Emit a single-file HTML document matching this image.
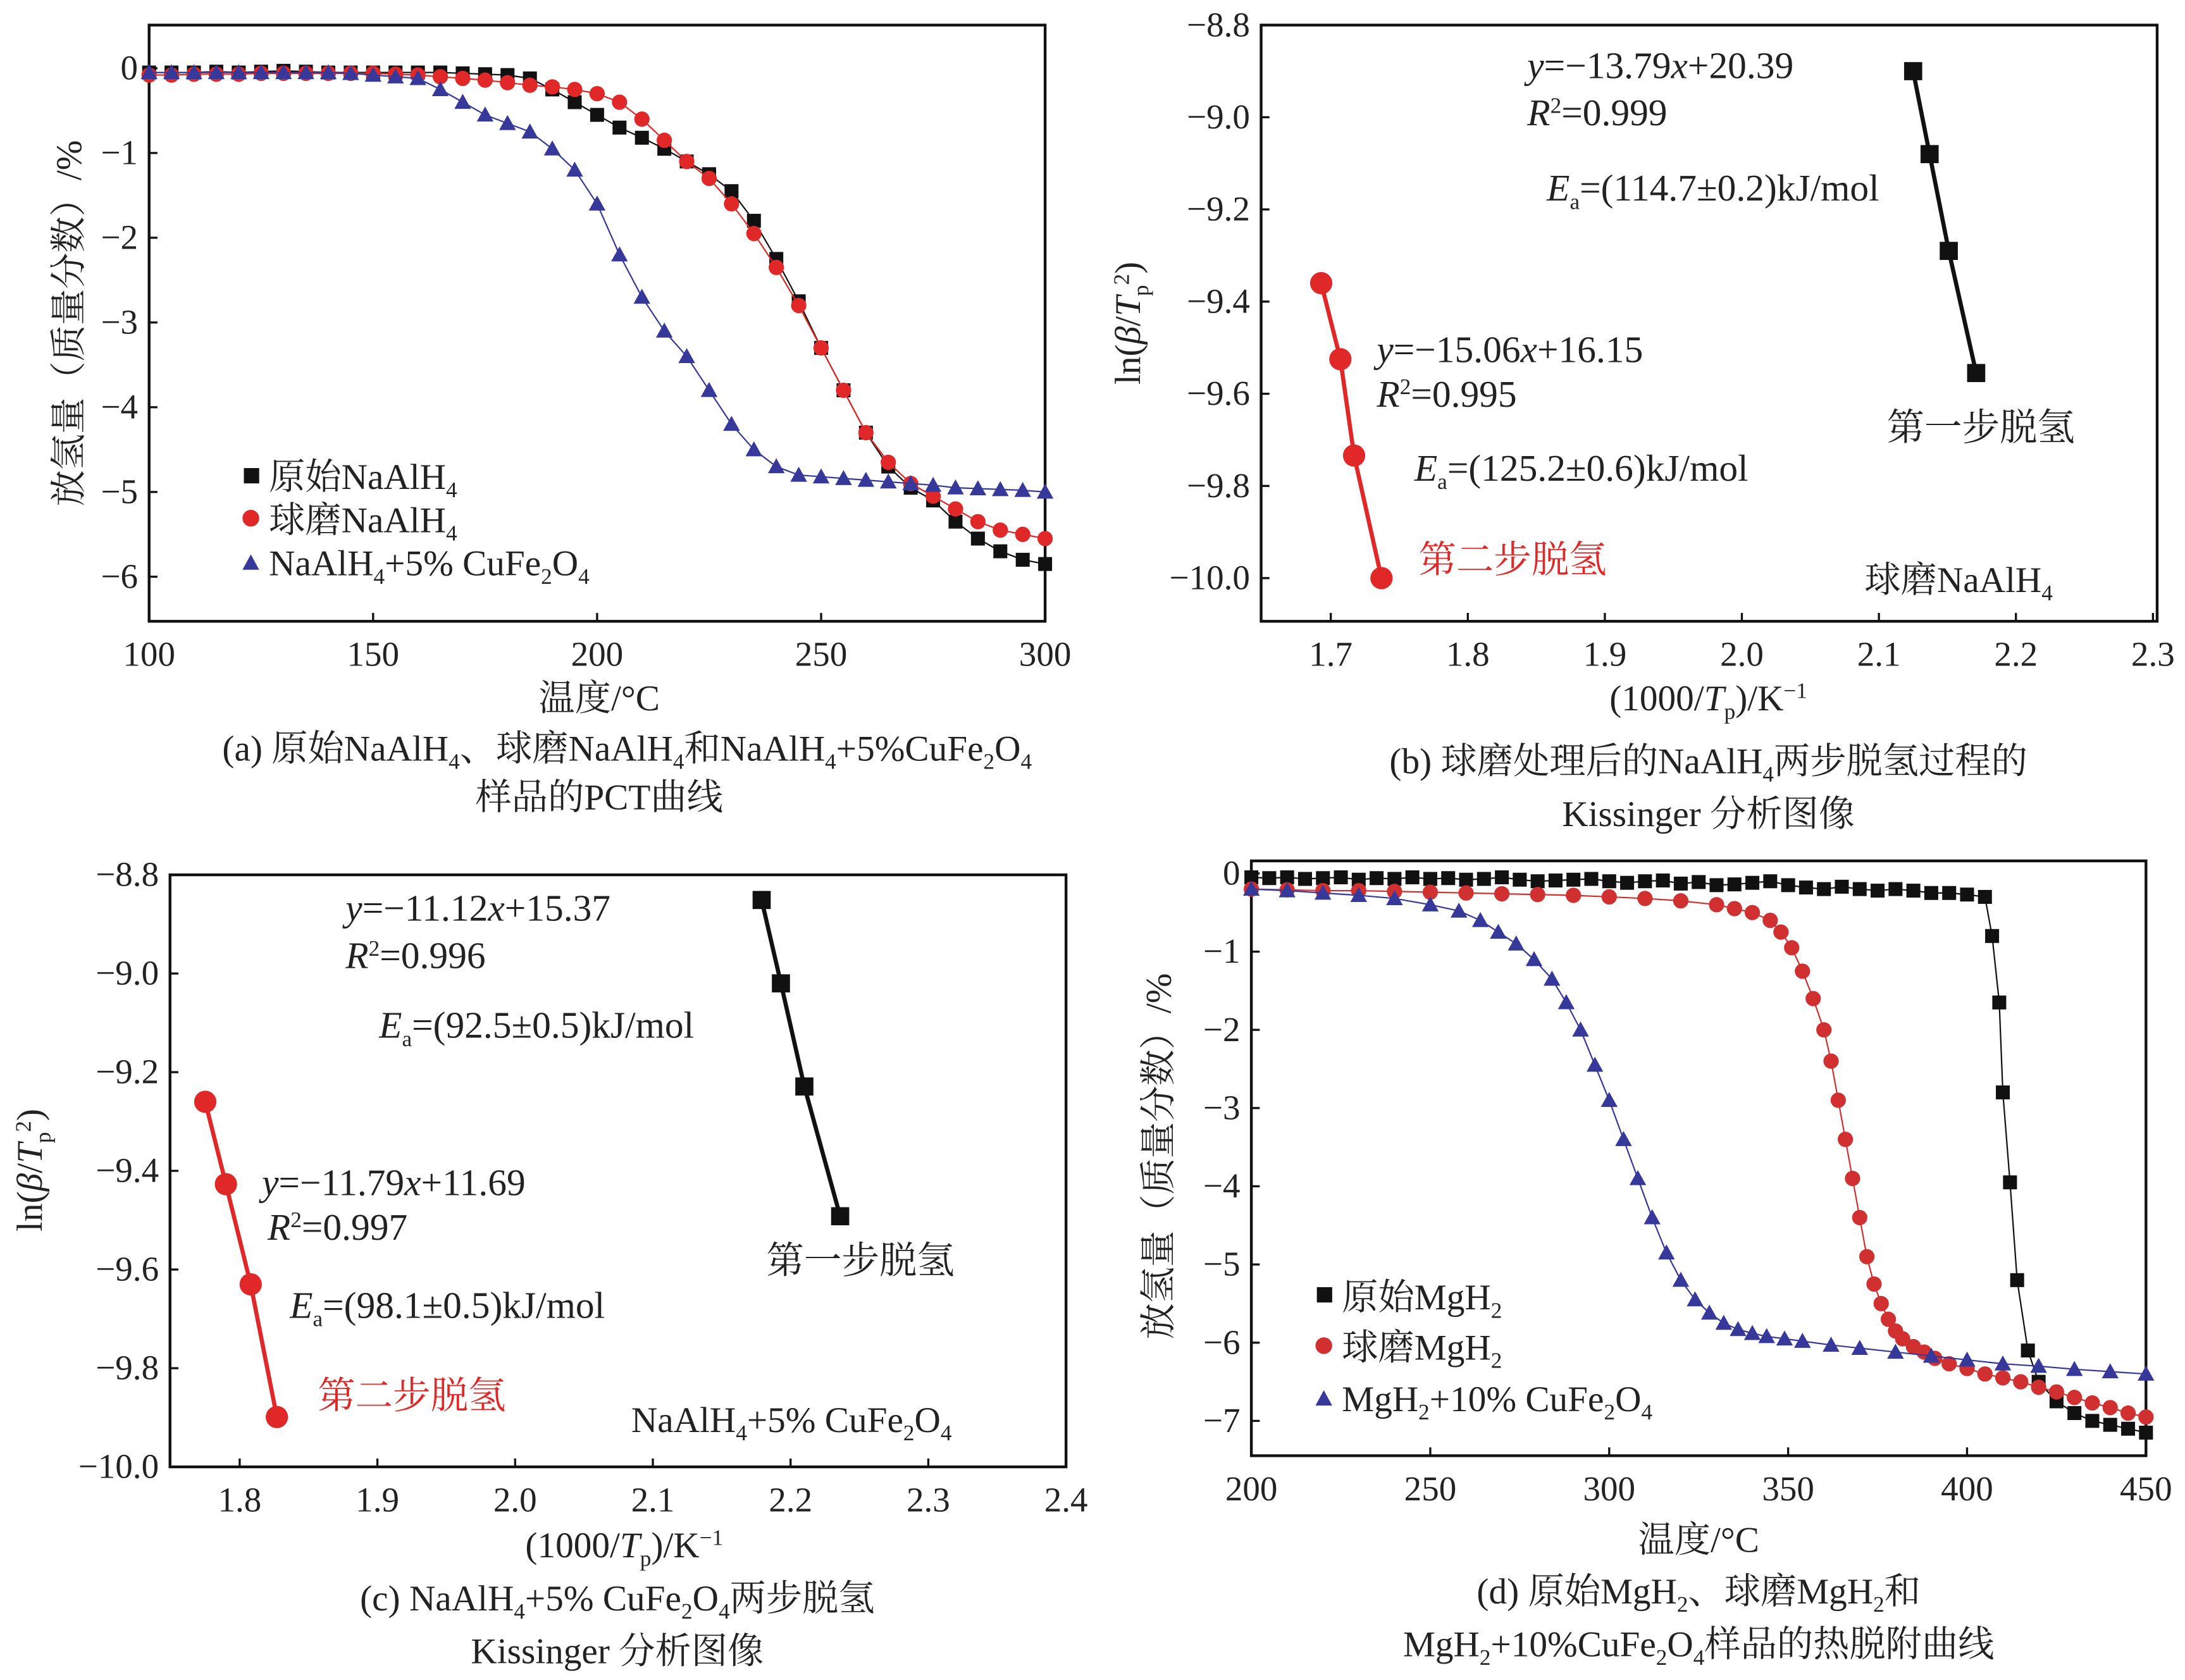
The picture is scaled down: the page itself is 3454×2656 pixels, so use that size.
<!DOCTYPE html>
<html><head><meta charset="utf-8"><style>
html,body{margin:0;padding:0;background:#fff}
svg{display:block}
text{font-family:"Liberation Serif","Noto Serif CJK SC","Noto Sans CJK SC",serif;fill:#222}
</style></head><body>
<svg id="fig" width="3454" height="2656" viewBox="0 0 1568 1206" preserveAspectRatio="none" xmlns="http://www.w3.org/2000/svg">
<g id="static" font-size="26">
<!-- panel a labels -->
<text x="430" y="510" text-anchor="middle">温度/°C</text>
<text transform="translate(58,232) rotate(-90)" text-anchor="middle">放氢量（质量分数）/%</text>
<text x="450" y="546" text-anchor="middle" font-size="26">(a) 原始NaAlH<tspan font-size="16" dy="6">4</tspan><tspan dy="-6">、球磨NaAlH</tspan><tspan font-size="16" dy="6">4</tspan><tspan dy="-6">和NaAlH</tspan><tspan font-size="16" dy="6">4</tspan><tspan dy="-6">+5%CuFe</tspan><tspan font-size="16" dy="6">2</tspan><tspan dy="-6">O</tspan><tspan font-size="16" dy="6">4</tspan></text>
<text x="430" y="581" text-anchor="middle" font-size="26">样品的PCT曲线</text>
<!-- legend a -->
<text x="193" y="351">原始NaAlH<tspan font-size="16" dy="6">4</tspan></text>
<text x="193" y="382">球磨NaAlH<tspan font-size="16" dy="6">4</tspan></text>
<text x="193" y="413">NaAlH<tspan font-size="16" dy="6">4</tspan><tspan dy="-6">+5% CuFe</tspan><tspan font-size="16" dy="6">2</tspan><tspan dy="-6">O</tspan><tspan font-size="16" dy="6">4</tspan></text>
<rect x="175" y="336" width="11" height="11" fill="#111"/>
<circle cx="180" cy="372" r="6" fill="#e02828"/>
<polygon points="174,409 186,409 180,398" fill="#36399a"/>

<!-- panel b labels -->
<text x="1226" y="510" text-anchor="middle">(1000/<tspan font-style="italic">T</tspan><tspan font-size="16" dy="6">p</tspan><tspan dy="-6">)/K</tspan><tspan font-size="16" dy="-9">−1</tspan></text>
<text transform="translate(818,232) rotate(-90)" text-anchor="middle">ln(<tspan font-style="italic">β</tspan>/<tspan font-style="italic">T</tspan><tspan font-size="16" dy="6">p</tspan><tspan font-size="16" dy="-14">2</tspan><tspan dy="8">)</tspan></text>
<text x="1226" y="555" text-anchor="middle" font-size="26">(b) 球磨处理后的NaAlH<tspan font-size="16" dy="6">4</tspan><tspan dy="-6">两步脱氢过程的</tspan></text>
<text x="1226" y="593" text-anchor="middle" font-size="26">Kissinger 分析图像</text>
<text x="1096" y="56" font-size="27"><tspan font-style="italic">y</tspan>=−13.79<tspan font-style="italic">x</tspan>+20.39</text>
<text x="1096" y="90" font-size="27"><tspan font-style="italic">R</tspan><tspan font-size="16" dy="-9">2</tspan><tspan dy="9">=0.999</tspan></text>
<text x="1110" y="144" font-size="27"><tspan font-style="italic">E</tspan><tspan font-size="16" dy="6">a</tspan><tspan dy="-6">=(114.7±0.2)kJ/mol</tspan></text>
<text x="1354" y="316" font-size="27">第一步脱氢</text>
<text x="988" y="260" font-size="27"><tspan font-style="italic">y</tspan>=−15.06<tspan font-style="italic">x</tspan>+16.15</text>
<text x="988" y="292" font-size="27"><tspan font-style="italic">R</tspan><tspan font-size="16" dy="-9">2</tspan><tspan dy="9">=0.995</tspan></text>
<text x="1015" y="345" font-size="27"><tspan font-style="italic">E</tspan><tspan font-size="16" dy="6">a</tspan><tspan dy="-6">=(125.2±0.6)kJ/mol</tspan></text>
<text x="1018" y="411" font-size="27" style="fill:#e02828">第二步脱氢</text>
<text x="1338" y="425">球磨NaAlH<tspan font-size="16" dy="6">4</tspan></text>

<!-- panel c labels -->
<text x="448" y="1118" text-anchor="middle">(1000/<tspan font-style="italic">T</tspan><tspan font-size="16" dy="6">p</tspan><tspan dy="-6">)/K</tspan><tspan font-size="16" dy="-9">−1</tspan></text>
<text transform="translate(30,840) rotate(-90)" text-anchor="middle">ln(<tspan font-style="italic">β</tspan>/<tspan font-style="italic">T</tspan><tspan font-size="16" dy="6">p</tspan><tspan font-size="16" dy="-14">2</tspan><tspan dy="8">)</tspan></text>
<text x="443" y="1156" text-anchor="middle" font-size="26">(c) NaAlH<tspan font-size="16" dy="6">4</tspan><tspan dy="-6">+5% CuFe</tspan><tspan font-size="16" dy="6">2</tspan><tspan dy="-6">O</tspan><tspan font-size="16" dy="6">4</tspan><tspan dy="-6">两步脱氢</tspan></text>
<text x="443" y="1194" text-anchor="middle" font-size="26">Kissinger 分析图像</text>
<text x="248" y="661" font-size="27"><tspan font-style="italic">y</tspan>=−11.12<tspan font-style="italic">x</tspan>+15.37</text>
<text x="248" y="695" font-size="27"><tspan font-style="italic">R</tspan><tspan font-size="16" dy="-9">2</tspan><tspan dy="9">=0.996</tspan></text>
<text x="272" y="745" font-size="27"><tspan font-style="italic">E</tspan><tspan font-size="16" dy="6">a</tspan><tspan dy="-6">=(92.5±0.5)kJ/mol</tspan></text>
<text x="550" y="914" font-size="27">第一步脱氢</text>
<text x="188" y="858" font-size="27"><tspan font-style="italic">y</tspan>=−11.79<tspan font-style="italic">x</tspan>+11.69</text>
<text x="192" y="890" font-size="27"><tspan font-style="italic">R</tspan><tspan font-size="16" dy="-9">2</tspan><tspan dy="9">=0.997</tspan></text>
<text x="208" y="946" font-size="27"><tspan font-style="italic">E</tspan><tspan font-size="16" dy="6">a</tspan><tspan dy="-6">=(98.1±0.5)kJ/mol</tspan></text>
<text x="228" y="1011" font-size="27" style="fill:#e02828">第二步脱氢</text>
<text x="453" y="1028">NaAlH<tspan font-size="16" dy="6">4</tspan><tspan dy="-6">+5% CuFe</tspan><tspan font-size="16" dy="6">2</tspan><tspan dy="-6">O</tspan><tspan font-size="16" dy="6">4</tspan></text>

<!-- panel d labels -->
<text x="1219" y="1114" text-anchor="middle">温度/°C</text>
<text transform="translate(840,830) rotate(-90)" text-anchor="middle">放氢量（质量分数）/%</text>
<text x="1219" y="1151" text-anchor="middle" font-size="26">(d) 原始MgH<tspan font-size="16" dy="6">2</tspan><tspan dy="-6">、球磨MgH</tspan><tspan font-size="16" dy="6">2</tspan><tspan dy="-6">和</tspan></text>
<text x="1219" y="1189" text-anchor="middle" font-size="26">MgH<tspan font-size="16" dy="6">2</tspan><tspan dy="-6">+10%CuFe</tspan><tspan font-size="16" dy="6">2</tspan><tspan dy="-6">O</tspan><tspan font-size="16" dy="6">4</tspan><tspan dy="-6">样品的热脱附曲线</tspan></text>
<text x="963" y="940">原始MgH<tspan font-size="16" dy="6">2</tspan></text>
<text x="963" y="976">球磨MgH<tspan font-size="16" dy="6">2</tspan></text>
<text x="963" y="1013">MgH<tspan font-size="16" dy="6">2</tspan><tspan dy="-6">+10% CuFe</tspan><tspan font-size="16" dy="6">2</tspan><tspan dy="-6">O</tspan><tspan font-size="16" dy="6">4</tspan></text>
<rect x="945" y="924" width="11" height="11" fill="#111"/>
<circle cx="950" cy="966" r="6" fill="#d03030"/>
<polygon points="944,1009 956,1009 950,998" fill="#36399a"/>
</g>
<g id="dyn"></g>
</svg>
<script>
// ---- Panel a data ----
const aTemps = [100,105,110,115,120,125,130,135,140,145,150,155,160,165,170,175,180,185,190,195,200,205,210,215,220,225,230,235,240,245,250,255,260,265,270,275,280,285,290,295,300];
const aOriginal = [-0.05,-0.05,-0.05,-0.04,-0.05,-0.04,-0.03,-0.04,-0.05,-0.05,-0.05,-0.05,-0.05,-0.05,-0.06,-0.07,-0.08,-0.12,-0.25,-0.4,-0.55,-0.7,-0.82,-0.95,-1.1,-1.25,-1.45,-1.8,-2.25,-2.75,-3.3,-3.8,-4.3,-4.7,-4.95,-5.1,-5.35,-5.55,-5.7,-5.8,-5.85];
const aBallMilled = [-0.08,-0.08,-0.07,-0.07,-0.07,-0.06,-0.06,-0.06,-0.06,-0.06,-0.06,-0.07,-0.08,-0.1,-0.12,-0.14,-0.17,-0.2,-0.22,-0.25,-0.3,-0.4,-0.6,-0.85,-1.1,-1.3,-1.6,-1.95,-2.35,-2.8,-3.3,-3.8,-4.3,-4.65,-4.9,-5.05,-5.2,-5.35,-5.45,-5.5,-5.55];
const aCuFe = [-0.05,-0.05,-0.05,-0.05,-0.05,-0.05,-0.05,-0.05,-0.05,-0.06,-0.08,-0.1,-0.12,-0.25,-0.4,-0.55,-0.65,-0.75,-0.95,-1.2,-1.6,-2.2,-2.7,-3.1,-3.4,-3.8,-4.2,-4.5,-4.7,-4.8,-4.82,-4.84,-4.86,-4.88,-4.9,-4.92,-4.95,-4.96,-4.97,-4.98,-5.0];
const aXTicks = [100,150,200,250,300];
const aYTicks = [0,-1,-2,-3,-4,-5,-6];
// ---- Panel b data ----
const bStep1X = [2.125,2.137,2.151,2.171];
const bStep1Y = [-8.90,-9.08,-9.29,-9.555];
const bStep2X = [1.693,1.707,1.717,1.737];
const bStep2Y = [-9.36,-9.525,-9.734,-10.0];
const bXTicks = [1.7,1.8,1.9,2.0,2.1,2.2,2.3];
const bYTicks = [-8.8,-9.0,-9.2,-9.4,-9.6,-9.8,-10.0];
// ---- Panel c data ----
const cStep1X = [2.179,2.193,2.210,2.236];
const cStep1Y = [-8.851,-9.02,-9.229,-9.492];
const cStep2X = [1.775,1.790,1.808,1.827];
const cStep2Y = [-9.26,-9.427,-9.63,-9.899];
const cXTicks = [1.8,1.9,2.0,2.1,2.2,2.3,2.4];
const cYTicks = [-8.8,-9.0,-9.2,-9.4,-9.6,-9.8,-10.0];
// ---- Panel d data ----
const dOrigT = [200,205,210,215,220,225,230,235,240,245,250,255,260,265,270,275,280,285,290,295,300,305,310,315,320,325,330,335,340,345,350,355,360,365,370,375,380,385,390,395,400,405,407,409,410,412,414,417,420,425,430,435,440,445,450];
const dOrigV = [-0.05,-0.06,-0.05,-0.07,-0.06,-0.05,-0.08,-0.06,-0.07,-0.05,-0.07,-0.06,-0.08,-0.07,-0.05,-0.08,-0.1,-0.09,-0.08,-0.07,-0.1,-0.12,-0.1,-0.09,-0.13,-0.11,-0.15,-0.14,-0.12,-0.1,-0.15,-0.18,-0.2,-0.17,-0.2,-0.22,-0.2,-0.22,-0.25,-0.25,-0.27,-0.3,-0.8,-1.65,-2.8,-3.95,-5.2,-6.1,-6.5,-6.75,-6.9,-7.0,-7.05,-7.1,-7.15];
const dBallT = [200,210,220,230,240,250,260,270,280,290,300,310,320,330,335,340,345,348,351,354,357,360,362,364,366,368,370,372,374,376,378,380,382,385,388,391,395,400,405,410,415,420,425,430,435,440,445,450];
const dBallV = [-0.2,-0.21,-0.22,-0.22,-0.23,-0.24,-0.25,-0.26,-0.27,-0.28,-0.3,-0.32,-0.35,-0.4,-0.45,-0.5,-0.6,-0.75,-0.95,-1.25,-1.6,-2.0,-2.4,-2.9,-3.4,-3.9,-4.4,-4.9,-5.25,-5.5,-5.7,-5.85,-5.95,-6.05,-6.12,-6.2,-6.27,-6.33,-6.4,-6.45,-6.5,-6.57,-6.63,-6.7,-6.77,-6.83,-6.9,-6.95];
const dCuT = [200,210,220,230,240,250,258,264,269,274,279,284,288,292,296,300,304,308,312,316,320,324,328,332,336,340,344,349,354,362,370,380,390,400,410,420,430,440,450];
const dCuV = [-0.2,-0.22,-0.25,-0.28,-0.32,-0.4,-0.48,-0.6,-0.75,-0.9,-1.1,-1.35,-1.65,-2.0,-2.45,-2.9,-3.4,-3.9,-4.4,-4.85,-5.2,-5.45,-5.62,-5.75,-5.83,-5.88,-5.92,-5.95,-5.98,-6.03,-6.07,-6.12,-6.17,-6.22,-6.27,-6.3,-6.34,-6.37,-6.4];
const dXTicks = [200,250,300,350,400,450];
const dYTicks = [0,-1,-2,-3,-4,-5,-6,-7];

const NS = 'http://www.w3.org/2000/svg';
const root = document.getElementById('dyn');
function el(tag, attrs, parent) {
  const e = document.createElementNS(NS, tag);
  for (const k in attrs) e.setAttribute(k, attrs[k]);
  (parent || root).appendChild(e);
  return e;
}
function lin(d0, d1, p0, p1) { return v => p0 + (v - d0) * (p1 - p0) / (d1 - d0); }

function axes(name, box, sx, sy, xt, yt, xfmt, yfmt) {
  const g = el('g', {});
  
  
  const r = el('rect', {x: box.x0, y: box.y0, width: box.x1 - box.x0, height: box.y1 - box.y0, fill: 'none', stroke: '#111', 'stroke-width': 2}, g);
  
  
  xt.forEach(v => {
    const x = sx(v);
    el('line', {x1: x, x2: x, y1: box.y1, y2: box.y1 - 6, stroke: '#111', 'stroke-width': 1.5}, g);
    const t = el('text', {x: x, y: box.y1 + 32, 'text-anchor': 'middle', 'font-size': 25}, g);
    t.textContent = xfmt(v);
    
    
  });
  yt.forEach(v => {
    const y = sy(v);
    el('line', {x1: box.x0, x2: box.x0 + 6, y1: y, y2: y, stroke: '#111', 'stroke-width': 1.5}, g);
    const t = el('text', {x: box.x0 - 8, y: y + 8, 'text-anchor': 'end', 'font-size': 25}, g);
    t.textContent = yfmt(v);
    
    
  });
}
function series(name, xs, ys, sx, sy, color, marker, size, lw) {
  const g = el('g', {});
  
  
  const pts = xs.map((x, i) => sx(x).toFixed(2) + ',' + sy(ys[i]).toFixed(2)).join(' ');
  el('polyline', {points: pts, fill: 'none', stroke: color, 'stroke-width': lw}, g);
  xs.forEach((x, i) => {
    const px = sx(x), py = sy(ys[i]);
    let m;
    if (marker === 'sq') m = el('rect', {x: px - size, y: py - size, width: 2 * size, height: 2 * size, fill: color}, g);
    else if (marker === 'ci') m = el('circle', {cx: px, cy: py, r: size, fill: color}, g);
    else m = el('polygon', {points: `${px - size},${py + size * 0.8} ${px + size},${py + size * 0.8} ${px},${py - size}`, fill: color}, g);
    
    
  });
}
const neg = v => String(v).replace('-', '−');
const f1 = v => neg(v.toFixed(1));

// Panel a
{
  const box = {x0: 107, x1: 750, y0: 18, y1: 446};
  const sx = lin(100, 300, 107, 750), sy = lin(0, -6, 49, 414);
  axes('a', box, sx, sy, aXTicks, aYTicks, v => String(v), neg);
  series('a-original-series', aTemps, aOriginal, sx, sy, '#111', 'sq', 5, 1);
  series('a-ballmilled-series', aTemps, aBallMilled, sx, sy, '#e02828', 'ci', 5.5, 1);
  series('a-cufe-series', aTemps, aCuFe, sx, sy, '#36399a', 'tri', 6, 1);
}
// Panel b
{
  const box = {x0: 905, x1: 1548, y0: 18, y1: 446};
  const sx = lin(1.7, 2.3, 955, 1545), sy = lin(-8.8, -10.0, 18, 415);
  axes('b', box, sx, sy, bXTicks, bYTicks, v => v.toFixed(1), f1);
  series('b-step1-series', bStep1X, bStep1Y, sx, sy, '#111', 'sq', 6.5, 3);
  series('b-step2-series', bStep2X, bStep2Y, sx, sy, '#e02828', 'ci', 8, 3);
}
// Panel c
{
  const box = {x0: 122, x1: 765, y0: 628, y1: 1053};
  const sx = lin(1.8, 2.4, 172, 765), sy = lin(-8.8, -10.0, 628, 1053);
  axes('c', box, sx, sy, cXTicks, cYTicks, v => v.toFixed(1), f1);
  series('c-step1-series', cStep1X, cStep1Y, sx, sy, '#111', 'sq', 6.5, 3);
  series('c-step2-series', cStep2X, cStep2Y, sx, sy, '#e02828', 'ci', 8, 3);
}
// Panel d
{
  const box = {x0: 898, x1: 1540, y0: 618, y1: 1045};
  const sx = lin(200, 450, 898, 1540), sy = lin(0, -7, 627, 1020);
  axes('d', box, sx, sy, dXTicks, dYTicks, v => String(v), neg);
  series('d-original-series', dOrigT, dOrigV, sx, sy, '#111', 'sq', 5, 1);
  series('d-ballmilled-series', dBallT, dBallV, sx, sy, '#d03030', 'ci', 5.5, 1);
  series('d-cufe-series', dCuT, dCuV, sx, sy, '#36399a', 'tri', 6, 1);
}
</script>
</body></html>
